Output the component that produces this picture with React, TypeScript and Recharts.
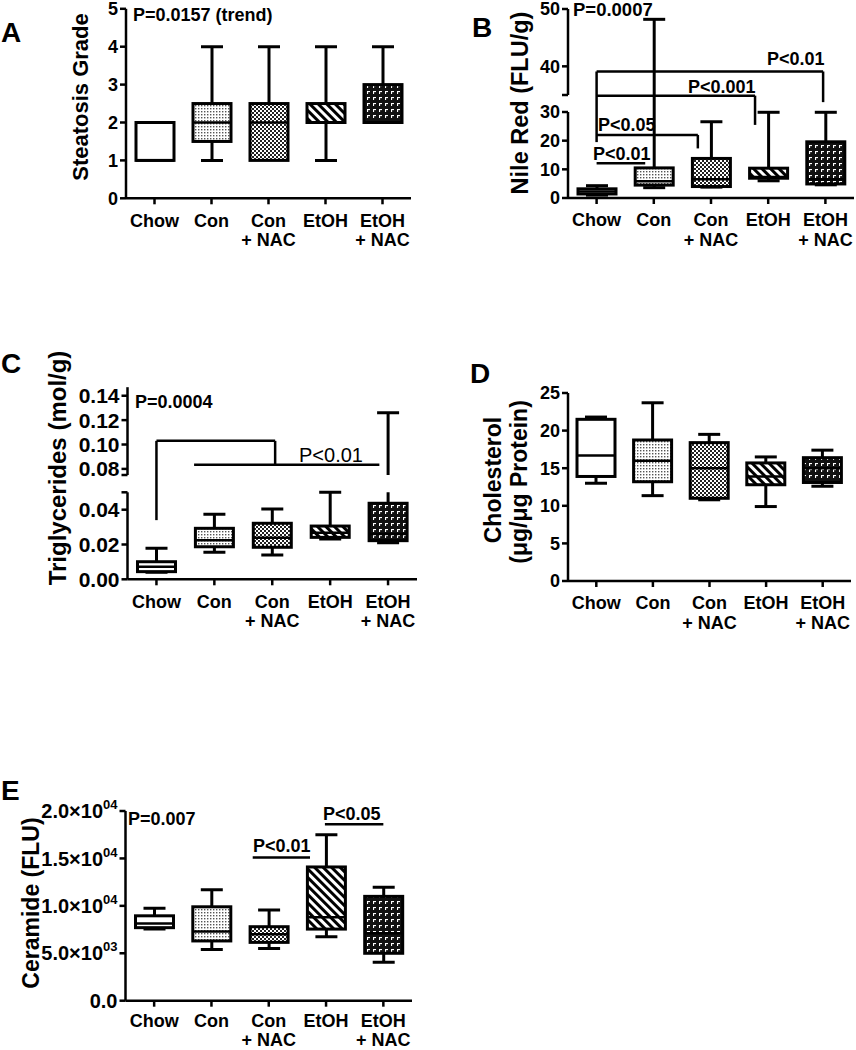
import React from "react";
import { ComposedChart, Bar, XAxis, YAxis, ReferenceLine } from "recharts";

const groups = ["Chow", "Con", "Con + NAC", "EtOH", "EtOH + NAC"];

// [min, q1, median, q3, max] for each group
const steatosisGrade = [
  [1, 1, 1, 2, 2],
  [1, 1.5, 2, 2.5, 4],
  [1, 1, 2, 2.5, 4],
  [1, 2, 2, 2.5, 4],
  [2, 2, 2, 3, 4],
];
const nileRed = [
  [1.0, 1.4, 2.3, 3.2, 4.3],
  [3.6, 4.5, 5.8, 10.5, 48.2],
  [3.8, 4.0, 6.5, 13.8, 26.6],
  [6.0, 6.9, 7.3, 10.4, 29.9],
  [4.6, 4.9, 6.5, 19.6, 29.9],
];
const triglycerides = [
  [0.004, 0.0044, 0.0072, 0.0101, 0.0178],
  [0.0155, 0.0187, 0.0225, 0.0293, 0.0374],
  [0.014, 0.0184, 0.0239, 0.0322, 0.0404],
  [0.0232, 0.0241, 0.0268, 0.0306, 0.05],
  [0.021, 0.0222, 0.026, 0.0437, 0.126],
];
const cholesterol = [
  [13.0, 13.9, 16.7, 21.5, 21.8],
  [11.35, 13.2, 16.0, 18.75, 23.7],
  [10.8, 11.0, 15.0, 18.4, 19.5],
  [9.9, 12.8, 13.9, 15.7, 16.5],
  [12.6, 13.1, 15.0, 16.4, 17.4],
];
const ceramide = [
  [7550, 7700, 8150, 8950, 9750],
  [5400, 6300, 7300, 9900, 11700],
  [5500, 6150, 7000, 7800, 9550],
  [6750, 7550, 8800, 14100, 17500],
  [4050, 5000, 7100, 11000, 11950],
];

const steatosisTicks = [0, 1, 2, 3, 4, 5];
const nileRedTicks = [0, 10, 20, 30, 35, 40, 50];
const nileRedTickLabels = ["0", "10", "20", "30", "", "40", "50"];
const trigTicks = [0, 0.02, 0.04, 0.05, 0.075, 0.08, 0.1, 0.12, 0.14];
const trigTickLabels = ["0.00", "0.02", "0.04", "", "", "0.08", "0.10", "0.12", "0.14"];
const cholTicks = [0, 5, 10, 15, 20, 25];
const ceramideTicks = [0, 5000, 10000, 15000, 20000];
const ceramideTickLabels = [["0.0", ""], ["5.0×10", "03"], ["1.0×10", "04"], ["1.5×10", "04"], ["2.0×10", "04"]];

// significance brackets: [group position, value] polylines
const nileRedBrackets = [
  [[0, 19.5], [0, 39.1], [3.96, 39.1], [3.96, 32.9]],
  [[0, 34.8], [2.77, 34.8], [2.77, 25.5]],
  [[0, 22], [1.77, 22], [1.77, 17.3]],
  [[0, 12.1], [0.85, 12.1]],
];
const trigBrackets = [
  [[0, 0.034], [0, 0.103], [2.05, 0.103], [2.05, 0.0835]],
  [[0.65, 0.0835], [3.85, 0.0835]],
];
const ceramideBrackets = [
  [[1.72, 15100], [2.72, 15100]],
  [[2.98, 18600], [4.0, 18600]],
];

const FONT = "'Liberation Sans', Arial, Helvetica, sans-serif";
const fills = ["url(#pChow)", "url(#pCon)", "url(#pConNac)", "url(#pEtoh)", "url(#pEtohNac)"];
const axisStyle = { stroke: "#000", strokeWidth: 2.5 };

function piecewise(br: number[][]) {
  return (v: number) => {
    let i = 0;
    while (i < br.length - 2 && v > br[i + 1][0]) i++;
    const [v0, d0] = br[i];
    const [v1, d1] = br[i + 1];
    return d0 + ((v - v0) * (d1 - d0)) / (v1 - v0);
  };
}

function BoxShape(props: any) {
  const { x, y, width, height, payload, gap } = props;
  const { lo, q1, med, q3, hi, fill } = payload;
  const py = (d: number) => y + (height * (hi - d)) / (hi - lo);
  const cx = x + width / 2;
  const cap = 11;
  const upper: number[][] = [];
  if (gap && hi > gap[1] && q3 < gap[0]) upper.push([q3, gap[0]], [gap[1], hi]);
  else upper.push([q3, hi]);
  return (
    <g>
      {upper.map(([a, b], k) => (
        <line key={k} x1={cx} x2={cx} y1={py(a)} y2={py(b)} stroke="#000" strokeWidth={3} />
      ))}
      <line x1={cx} x2={cx} y1={py(q1)} y2={py(lo)} stroke="#000" strokeWidth={3} />
      {hi > q3 && <line x1={cx - cap} x2={cx + cap} y1={py(hi)} y2={py(hi)} stroke="#000" strokeWidth={3} />}
      {lo < q1 && <line x1={cx - cap} x2={cx + cap} y1={py(lo)} y2={py(lo)} stroke="#000" strokeWidth={3} />}
      <rect x={x} y={py(q3)} width={width} height={py(q1) - py(q3)} fill={fill} stroke="#000" strokeWidth={3} />
      <line x1={x} x2={x + width} y1={py(med)} y2={py(med)} stroke="#000" strokeWidth={2.5} />
    </g>
  );
}

function CatTick(props: any) {
  const { x, y, payload, first, gap } = props;
  const parts = String(payload.value).split(" + ");
  return (
    <g fontFamily={FONT} fontWeight="bold" fontSize={18} fill="#000">
      <text x={x} y={y + first} textAnchor="middle">{parts[0]}</text>
      {parts[1] && (
        <text x={x} y={y + first + gap} textAnchor="middle">{"+ " + parts[1]}</text>
      )}
    </g>
  );
}

function ValTick(props: any) {
  const { x, y, label, size } = props;
  const [base, sup] = Array.isArray(label) ? label : [label, ""];
  return (
    <text x={x} y={y} dy="0.36em" textAnchor="end" fontFamily={FONT} fontWeight="bold" fontSize={size} fill="#000">
      {base}
      {sup && <tspan dy="-9" fontSize={13}>{sup}</tspan>}
    </text>
  );
}

function Panel(p: any) {
  const T = p.breaks ? piecewise(p.breaks) : (v: number) => v;
  const rows = groups.map((name, i) => {
    const [mn, q1, md, q3, mx] = p.stats[i];
    return { name, idx: i, lo: T(mn), q1: T(q1), med: T(md), q3: T(q3), hi: T(mx), fill: fills[i] };
  });
  const yTicks = p.ticks.map(T);
  const labels = p.tickLabels || p.ticks.map(String);
  const gap = p.whiskerGap ? p.whiskerGap.map(T) : null;
  const { l, t, r, b } = p.plot;
  const lines: any[] = [];
  (p.brackets || []).forEach((pts: number[][], k: number) => {
    for (let j = 1; j < pts.length; j++) {
      lines.push(
        <ReferenceLine
          key={`br${k}-${j}`}
          xAxisId="n"
          segment={[{ x: pts[j - 1][0], y: T(pts[j - 1][1]) }, { x: pts[j][0], y: T(pts[j][1]) }]}
          stroke="#000"
          strokeWidth={2.5}
          ifOverflow="visible"
        />
      );
    }
  });
  (p.axisPieces || []).forEach(([a, c]: number[], k: number) => {
    lines.push(
      <ReferenceLine
        key={`ax${k}`}
        xAxisId="n"
        segment={[{ x: -0.5, y: T(a) }, { x: -0.5, y: T(c) }]}
        stroke="#000"
        strokeWidth={2.5}
        ifOverflow="visible"
      />
    );
  });
  return (
    <div style={{ position: "absolute", left: p.left, top: p.top }}>
      <ComposedChart
        width={p.width}
        height={p.height}
        data={rows}
        margin={{ top: t, right: p.width - r, left: l - 60, bottom: p.height - b - 50 }}
      >
        <XAxis
          xAxisId="c"
          dataKey="name"
          type="category"
          interval={0}
          height={50}
          tickSize={6}
          tickMargin={2}
          axisLine={axisStyle}
          tickLine={axisStyle}
          tick={(tp: any) => <CatTick {...tp} first={p.labelFirst} gap={p.labelGap} />}
        />
        <XAxis xAxisId="n" dataKey="idx" type="number" domain={[-0.5, 4.5]} allowDataOverflow hide />
        <YAxis
          type="number"
          width={60}
          domain={[0, T(p.yTop)]}
          allowDataOverflow
          ticks={yTicks}
          interval={0}
          tickSize={6}
          tickMargin={2}
          axisLine={p.axisPieces ? false : axisStyle}
          tickLine={axisStyle}
          tick={(tp: any) => (
            <ValTick {...tp} size={p.tickSize || 18} label={labels[yTicks.indexOf(tp.payload.value)]} />
          )}
        />
        {lines}
        <Bar
          xAxisId="c"
          dataKey={(d: any) => [d.lo, d.hi]}
          barSize={38}
          isAnimationActive={false}
          shape={(sp: any) => <BoxShape {...sp} gap={gap} />}
        />
      </ComposedChart>
    </div>
  );
}

function Patterns() {
  return (
    <svg width="0" height="0" style={{ position: "absolute" }}>
      <defs>
        <pattern id="pChow" width="4" height="4" patternUnits="userSpaceOnUse">
          <rect width="4" height="4" fill="#fff" />
        </pattern>
        <pattern id="pCon" width="3" height="3" patternUnits="userSpaceOnUse">
          <rect width="3" height="3" fill="#fff" />
          <rect width="1.4" height="1.4" fill="#555" />
        </pattern>
        <pattern id="pConNac" width="4" height="4" patternUnits="userSpaceOnUse">
          <rect width="4" height="4" fill="#fff" />
          <rect width="2" height="2" fill="#222" />
          <rect x="2" y="2" width="2" height="2" fill="#222" />
        </pattern>
        <pattern id="pEtoh" width="6" height="6" patternUnits="userSpaceOnUse" patternTransform="rotate(-45)">
          <rect width="6" height="6" fill="#fff" />
          <rect width="3" height="6" fill="#000" />
        </pattern>
        <pattern id="pEtohNac" width="6" height="6" patternUnits="userSpaceOnUse">
          <rect width="6" height="6" fill="#111" />
          <rect x="1" y="1" width="3" height="1.1" fill="#fff" />
          <rect x="1" y="1" width="1.1" height="3" fill="#fff" />
        </pattern>
      </defs>
    </svg>
  );
}

function Overlay() {
  const bold = { fontFamily: FONT, fontWeight: "bold" as const, fill: "#000" };
  const vtitle = (txt: string, bx: number, cy: number, size: number) => (
    <text transform={`translate(${bx},${cy}) rotate(-90)`} textAnchor="middle" fontSize={size} {...bold}>
      {txt}
    </text>
  );
  return (
    <svg width={856} height={1050} style={{ position: "absolute", left: 0, top: 0, pointerEvents: "none" }}>
      <text x={1} y={42} fontSize={28} {...bold}>A</text>
      <text x={472} y={37} fontSize={28} {...bold}>B</text>
      <text x={1} y={373} fontSize={28} {...bold}>C</text>
      <text x={470} y={383} fontSize={28} {...bold}>D</text>
      <text x={1} y={800} fontSize={28} {...bold}>E</text>

      {vtitle("Steatosis Grade", 88, 97, 22)}
      {vtitle("Nile Red (FLU/g)", 528, 103, 23.5)}
      {vtitle("Triglycerides (mol/g)", 66, 468, 24)}
      {vtitle("Cholesterol", 501, 480, 23)}
      {vtitle("(μg/μg Protein)", 527, 482, 23)}
      {vtitle("Ceramide (FLU)", 39, 903, 23)}

      <text x={133} y={21} fontSize={18} {...bold}>P=0.0157 (trend)</text>
      <text x={573} y={16} fontSize={18.5} {...bold}>P=0.0007</text>
      <text x={767} y={65} fontSize={18} {...bold}>P&lt;0.01</text>
      <text x={688} y={93} fontSize={18} {...bold}>P&lt;0.001</text>
      <text x={598} y={131} fontSize={18} {...bold}>P&lt;0.05</text>
      <text x={593} y={160} fontSize={18} {...bold}>P&lt;0.01</text>
      <text x={135} y={408} fontSize={18} {...bold}>P=0.0004</text>
      <text x={299} y={462} fontSize={20} fontFamily={FONT} fill="#000">P&lt;0.01</text>
      <text x={128} y={825} fontSize={18} {...bold}>P=0.007</text>
      <text x={253} y={852} fontSize={18} {...bold}>P&lt;0.01</text>
      <text x={323} y={820} fontSize={18} {...bold}>P&lt;0.05</text>
    </svg>
  );
}

export default function App() {
  return (
    <div style={{ position: "absolute", left: 0, top: 0, width: 856, height: 1050, background: "#fff", overflow: "hidden" }}>
      <Patterns />
      <Panel
        left={0} top={0} width={430} height={260}
        plot={{ l: 126, t: 8.8, r: 411, b: 198.3 }}
        stats={steatosisGrade} ticks={steatosisTicks} yTop={5}
        labelFirst={20.4} labelGap={19.3}
      />
      <Panel
        left={430} top={0} width={426} height={260}
        plot={{ l: 138, t: 9, r: 424, b: 198 }}
        stats={nileRed} ticks={nileRedTicks} tickLabels={nileRedTickLabels} yTop={50}
        breaks={[[0, 0], [30, 86], [35, 103], [50, 189]]}
        axisPieces={[[0, 30], [35, 50]]}
        brackets={nileRedBrackets}
        labelFirst={20.4} labelGap={19.3}
      />
      <Panel
        left={0} top={330} width={430} height={310}
        plot={{ l: 127.5, t: 57.2, r: 417, b: 249.3 }}
        stats={triglycerides} ticks={trigTicks} tickLabels={trigTickLabels} yTop={0.147}
        breaks={[[0, 0], [0.05, 87], [0.075, 104.3], [0.147, 192.1]]}
        axisPieces={[[0, 0.05], [0.075, 0.147]]}
        whiskerGap={[0.05, 0.075]}
        brackets={trigBrackets}
        tickSize={21}
        labelFirst={20.4} labelGap={19.3}
      />
      <Panel
        left={430} top={330} width={426} height={310}
        plot={{ l: 138, t: 63, r: 421, b: 251 }}
        stats={cholesterol} ticks={cholTicks} yTop={25}
        labelFirst={20.4} labelGap={19.3}
      />
      <Panel
        left={0} top={750} width={430} height={300}
        plot={{ l: 125.5, t: 61, r: 412, b: 250.7 }}
        stats={ceramide} ticks={ceramideTicks} tickLabels={ceramideTickLabels} yTop={20000}
        brackets={ceramideBrackets}
        tickSize={20}
        labelFirst={18.3} labelGap={19.3}
      />
      <Overlay />
    </div>
  );
}
